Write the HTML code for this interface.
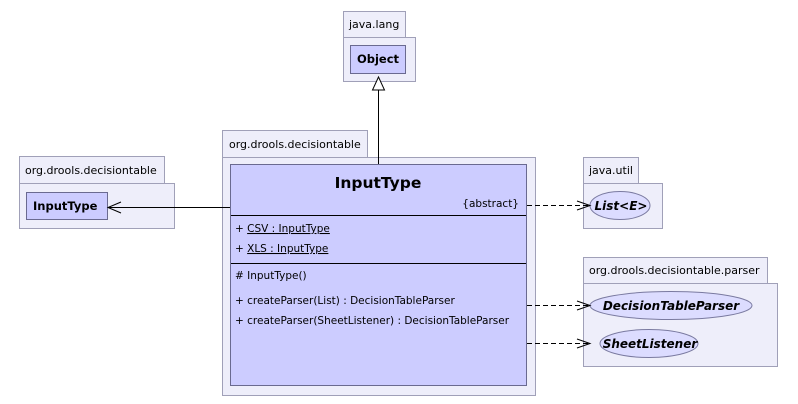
<!DOCTYPE html>
<html><head><style>body{margin:0;background:#fff}svg{display:block}text{font-family:"DejaVu Sans","Liberation Sans",sans-serif}</style></head><body>
<svg width="798" height="404" viewBox="0 0 798 404" xmlns="http://www.w3.org/2000/svg">
<g fill="#eeeefa" stroke="#a0a0b8" stroke-width="1">
<rect x="343.5" y="11.5" width="62" height="26"/><rect x="343.5" y="37.5" width="72" height="44"/>
<rect x="222.5" y="130.5" width="145" height="27"/><rect x="222.5" y="157.5" width="313" height="238"/>
<rect x="19.5" y="156.5" width="145" height="27"/><rect x="19.5" y="183.5" width="155" height="45"/>
<rect x="583.5" y="157.5" width="55" height="26"/><rect x="583.5" y="183.5" width="79" height="45"/>
<rect x="583.5" y="257.5" width="184" height="26"/><rect x="583.5" y="283.5" width="194" height="83"/>
</g>
<g font-size="11" fill="#000">
<text x="349" y="28">java.lang</text>
<text x="229" y="148">org.drools.decisiontable</text>
<text x="25" y="174">org.drools.decisiontable</text>
<text x="589" y="174">java.util</text>
<text x="589" y="274">org.drools.decisiontable.parser</text>
</g>
<g fill="#ccccff" stroke="#6a6a90">
<rect x="350.5" y="45.5" width="55" height="28"/>
<rect x="230.5" y="164.5" width="296" height="221"/>
<rect x="26.5" y="192.5" width="81" height="27"/>
</g>
<g fill="#dcdcff" stroke="#7a7aa0">
<ellipse cx="620" cy="205.5" rx="30" ry="14"/>
<ellipse cx="671" cy="305.5" rx="81" ry="14"/>
<ellipse cx="649" cy="343.5" rx="49" ry="14"/>
</g>
<g font-weight="bold" font-size="11.5" fill="#000">
<text x="378" y="63" text-anchor="middle">Object</text>
<text x="33" y="210">InputType</text>
<text x="378" y="188" text-anchor="middle" font-size="15.5">InputType</text>
</g>
<g font-weight="bold" font-style="italic" font-size="12" fill="#000">
<text x="621" y="210" text-anchor="middle">List&lt;E&gt;</text>
<text x="671" y="310" text-anchor="middle">DecisionTableParser</text>
<text x="650" y="348" text-anchor="middle">SheetListener</text>
</g>
<g font-size="10.5" fill="#000">
<text x="519" y="207" text-anchor="end">{abstract}</text>
<text x="235" y="232">+ <tspan text-decoration="underline">CSV : InputType  </tspan></text>
<text x="235" y="252">+ <tspan text-decoration="underline">XLS : InputType  </tspan></text>
<text x="235" y="279"># InputType()</text>
<text x="235" y="304">+ createParser(List) : DecisionTableParser</text>
<text x="235" y="324">+ createParser(SheetListener) : DecisionTableParser</text>
</g>
<g stroke="#000" fill="none">
<line x1="231" y1="215.5" x2="526" y2="215.5"/>
<line x1="231" y1="263.5" x2="526" y2="263.5"/>
<line x1="378.5" y1="164" x2="378.5" y2="90"/>
<polygon points="378.5,77 372.5,90 384.5,90" fill="#fff"/>
<line x1="230" y1="207.5" x2="108" y2="207.5"/>
<polyline points="121,202 108,207.5 121,213"/>
<g stroke-dasharray="5,3">
<line x1="527" y1="205.5" x2="588" y2="205.5"/>
<line x1="527" y1="305.5" x2="588" y2="305.5"/>
<line x1="527" y1="343.5" x2="588" y2="343.5"/>
</g>
<polyline points="577,201 590,205.5 577,210"/>
<polyline points="577,301 590,305.5 577,310"/>
<polyline points="577,339 590,343.5 577,348"/>
</g>
</svg>
</body></html>
